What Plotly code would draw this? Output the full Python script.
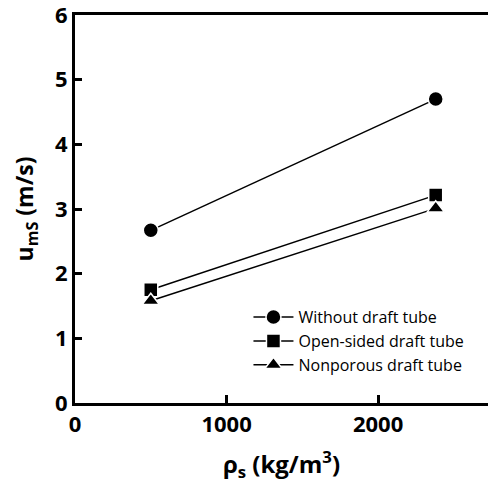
import plotly.graph_objects as go

density = [500, 2380]
without_tube = [2.67, 4.70]
open_sided = [1.75, 3.215]
nonporous = [1.58, 3.01]
names = ["Without draft tube", "Open-sided draft tube", "Nonporous draft tube"]
symbols = ["circle", "square", "triangle-up"]
sizes = [15, 14, 15]

fig = go.Figure()
for ys, nm, sym, sz in zip([without_tube, open_sided, nonporous], names, symbols, sizes):
    fig.add_trace(go.Scatter(
        x=density, y=ys, mode="lines+markers", name=nm,
        line=dict(color="black", width=1.5),
        marker=dict(symbol=sym, size=sz, color="black",
                    line=dict(color="white", width=1.5)),
    ))

font_family = "Open Sans, Liberation Sans, sans-serif"
fig.update_layout(
    width=489, height=491,
    margin=dict(l=75, r=1, t=23, b=80),
    plot_bgcolor="white", paper_bgcolor="white",
    font=dict(family=font_family, color="black"),
    showlegend=True,
    legend=dict(x=0.42, y=0.265, xanchor="left", yanchor="top",
                font=dict(size=16, family=font_family), bgcolor="rgba(0,0,0,0)",
                tracegroupgap=0, itemwidth=40),
    xaxis=dict(range=[0, 2725], tickvals=[0, 1000, 2000],
               ticks="inside", ticklen=8, tickwidth=2.5, tickcolor="black",
               showline=True, linewidth=3, linecolor="black", mirror=True,
               showgrid=False, zeroline=False,
               tickfont=dict(size=22, family=font_family, weight="bold"),
               title=dict(text="ρ<sub>s</sub> (kg/m<sup>3</sup>)", standoff=22,
                          font=dict(size=24, family=font_family, weight="bold"))),
    yaxis=dict(range=[0, 6], tickvals=[0, 1, 2, 3, 4, 5, 6],
               ticks="inside", ticklen=7, tickwidth=2.5, tickcolor="black",
               showline=True, linewidth=3, linecolor="black",
               showgrid=False, zeroline=False,
               tickfont=dict(size=22, family=font_family, weight="bold"),
               title=dict(text="u<sub>mS</sub> (m/s)", standoff=15,
                          font=dict(size=23, family=font_family, weight="bold"))),
)
fig.write_html("out.html", config={"displayModeBar": False},
               post_script="document.body.style.margin='-8px 0 0 0';document.body.style.overflow='hidden';")
